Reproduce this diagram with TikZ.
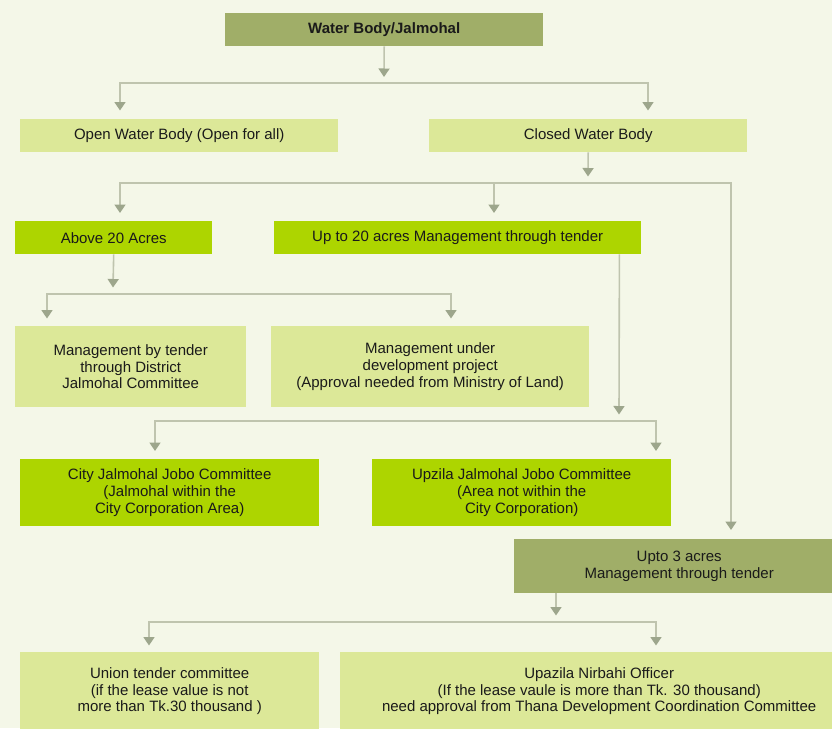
\documentclass[tikz,border=0pt]{standalone}
\usepackage{fontspec}
\setmainfont{Liberation Sans}
\usetikzlibrary{arrows.meta}
\definecolor{bgc}{HTML}{F4F7E8}
\definecolor{olive}{HTML}{A0AE68}
\definecolor{lightg}{HTML}{DCE898}
\definecolor{brightg}{HTML}{ADD500}
\definecolor{linec}{HTML}{BFC4AE}
\definecolor{tipc}{HTML}{9DA68C}
\definecolor{txt}{HTML}{1A1A1A}
\tikzset{
  box/.style={anchor=north west, inner sep=0pt, align=center, text=txt,
    font=\fontsize{15}{16.7}\selectfont},
  conn/.style={draw=linec, line width=1.6pt},
  arr/.style={conn, -{Triangle[width=11pt,length=8.5pt,color=tipc,fill=tipc]}},
}
\begin{document}
\begin{tikzpicture}[x=1pt,y=-1pt]
\clip (0,0) rectangle (832,728);
\fill[bgc] (0,0) rectangle (832,728);

% nodes
\node[box, fill=olive, minimum width=318pt, minimum height=33pt, font=\fontsize{15}{16.7}\selectfont\bfseries] (wb) at (225,13) {Water Body/Jalmohal};
\node[box, fill=lightg, minimum width=318pt, minimum height=33pt] (open) at (20,119) {Open Water Body (Open for all)};
\node[box, fill=lightg, minimum width=318pt, minimum height=33pt] (closed) at (429,119) {Closed Water Body};
\node[box, fill=brightg, minimum width=197pt, minimum height=33pt] (above) at (15,221) {Above 20 Acres};
\node[box, fill=brightg, minimum width=367pt, minimum height=33pt] (up20) at (274,221) {Up to 20 acres Management through tender};
\node[box, fill=lightg, minimum width=231pt, minimum height=81pt] (mbt) at (15,326) {Management by tender\\through District\\Jalmohal Committee};
\node[box, fill=lightg, minimum width=318pt, minimum height=81pt] (mud) at (271,326) {Management under\\development project\\(Approval needed from Ministry of Land)};
\node[box, fill=brightg, minimum width=299pt, minimum height=67pt] (city) at (20,459) {City Jalmohal Jobo Committee\\(Jalmohal within the\\City Corporation Area)};
\node[box, fill=brightg, minimum width=299pt, minimum height=67pt] (upz) at (372,459) {Upzila Jalmohal Jobo Committee\\(Area not within the\\City Corporation)};
\node[box, fill=olive, minimum width=330pt, minimum height=54pt] (upto3) at (514,539) {Upto 3 acres\\Management through tender};
\node[box, fill=lightg, minimum width=299pt, minimum height=78pt] (union) at (20,652) {Union tender committee\\(if the lease value is not\\more than Tk.30 thousand )};
\node[box, fill=lightg, minimum width=518pt, minimum height=78pt] (uno) at (340,652) {Upazila Nirbahi Officer\\(If the lease vaule is more than Tk. 30 thousand)\\need approval from Thana Development Coordination Committee};

% junctions
\coordinate (j1) at (384,83);
\coordinate (j2) at (588,183);
\coordinate (j3) at (113,294);
\coordinate (j4) at (619,421);
\coordinate (j5) at (556,622);

% level 1
\draw[arr] (wb.south) -- ([yshift=6pt]j1);
\draw[arr] (j1) -| ([xshift=100pt,yshift=8.5pt]open.north west);
\draw[arr] (j1) -| ([xshift=219pt,yshift=8.5pt]closed.north west);

% level 2
\draw[arr] (closed.south) -- ([yshift=6.5pt]j2);
\draw[arr] (j2) -| ([xshift=105pt,yshift=8pt]above.north west);
\draw[arr] (j2) -| ([xshift=220pt,yshift=8pt]up20.north west);
\draw[arr] (j2) -| ([xshift=217pt,yshift=9pt]upto3.north west);

% level 3
\draw[arr] (above.south) -- ([yshift=6.5pt]j3);
\draw[arr] (j3) -| ([xshift=32pt,yshift=7.5pt]mbt.north west);
\draw[arr] (j3) -| ([xshift=180pt,yshift=7.5pt]mud.north west);

% level 4
\draw[arr] ([xshift=-22pt]up20.south east) -- ([yshift=6.5pt]j4);
\draw[arr] (j4) -| ([xshift=135pt,yshift=8pt]city.north west);
\draw[arr] (j4) -| ([xshift=284pt,yshift=8pt]upz.north west);

% level 5
\draw[arr] ([xshift=42pt]upto3.south west) -- ([yshift=6.5pt]j5);
\draw[arr] (j5) -| ([xshift=129pt,yshift=6.5pt]union.north west);
\draw[arr] (j5) -| ([xshift=316pt,yshift=6.5pt]uno.north west);
\end{tikzpicture}
\end{document}
